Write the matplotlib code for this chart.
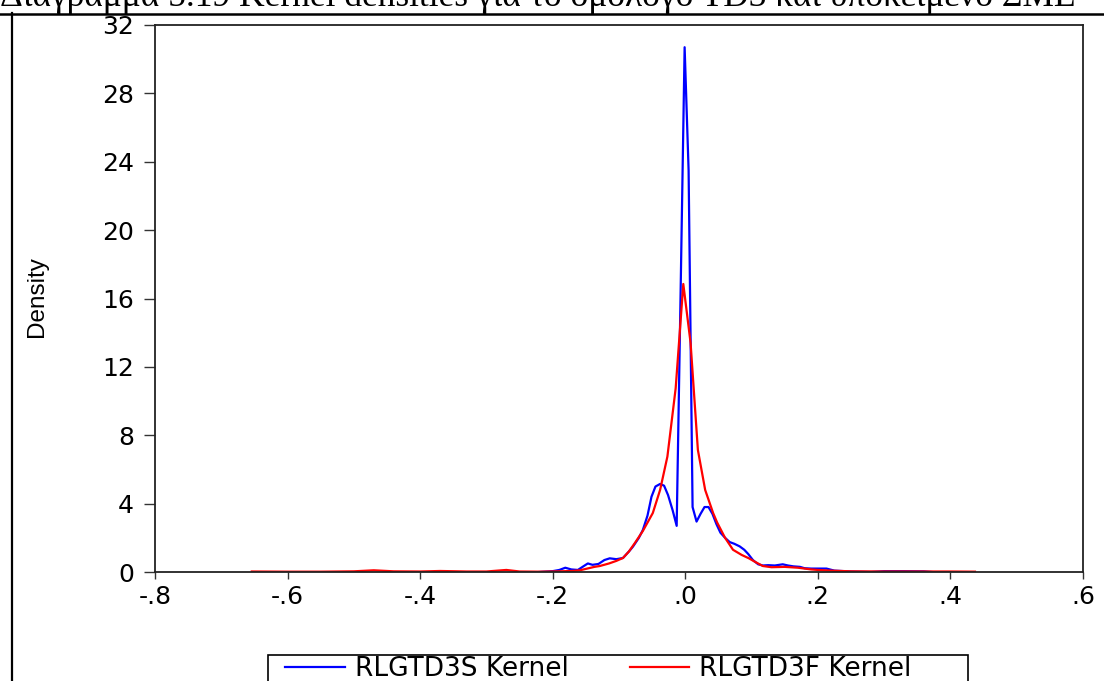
import matplotlib
matplotlib.use("Agg")
import matplotlib.pyplot as plt
from matplotlib.lines import Line2D
from matplotlib.patches import Rectangle

# RLGTD3S kernel density (blue)
s_x = [-0.22, -0.20, -0.19, -0.181, -0.172, -0.162, -0.155, -0.147, -0.14, -0.131,
       -0.122, -0.114, -0.104, -0.094, -0.085, -0.079, -0.07, -0.064, -0.057, -0.051,
       -0.045, -0.038, -0.032, -0.026, -0.019, -0.013, -0.007, -0.001, 0.005, 0.011,
       0.017, 0.023, 0.029, 0.035, 0.041, 0.047, 0.053, 0.06, 0.067, 0.074,
       0.082, 0.089, 0.095, 0.102, 0.11, 0.117, 0.125, 0.135, 0.147, 0.155,
       0.163, 0.173, 0.18, 0.19, 0.2, 0.213, 0.225, 0.25, 0.28, 0.3,
       0.33, 0.36, 0.372]
s_y = [0.0, 0.05, 0.12, 0.25, 0.15, 0.12, 0.3, 0.5, 0.42, 0.47,
       0.7, 0.8, 0.75, 0.82, 1.2, 1.48, 2.0, 2.46, 3.3, 4.4,
       5.0, 5.15, 5.05, 4.5, 3.6, 2.7, 16.5, 30.7, 23.5, 3.8,
       2.95, 3.4, 3.8, 3.8, 3.4, 2.8, 2.3, 2.0, 1.75, 1.65,
       1.5, 1.3, 1.05, 0.7, 0.45, 0.38, 0.4, 0.38, 0.45, 0.38,
       0.33, 0.3, 0.22, 0.2, 0.2, 0.2, 0.08, 0.03, 0.0, 0.05,
       0.05, 0.04, 0.0]

# RLGTD3F kernel density (red)
f_x = [-0.654, -0.6, -0.55, -0.5, -0.47, -0.44, -0.4, -0.37, -0.33, -0.3,
       -0.27, -0.25, -0.22, -0.19, -0.17, -0.159, -0.148, -0.137, -0.129, -0.115,
       -0.104, -0.094, -0.085, -0.076, -0.064, -0.049, -0.038, -0.027, -0.0145, -0.003,
       0.008, 0.019, 0.030, 0.042, 0.048, 0.06, 0.072, 0.085, 0.096, 0.105,
       0.117, 0.13, 0.15, 0.17, 0.19, 0.2, 0.22, 0.25, 0.3, 0.35,
       0.4, 0.437]
f_y = [0.03, 0.02, 0.02, 0.04, 0.1, 0.04, 0.03, 0.06, 0.03, 0.03,
       0.12, 0.03, 0.02, 0.04, 0.06, 0.1, 0.2, 0.3, 0.35, 0.5,
       0.65, 0.82, 1.2, 1.7, 2.4, 3.45, 4.8, 6.75, 10.75, 16.85,
       13.4, 7.14, 4.8, 3.45, 2.9, 2.0, 1.3, 1.0, 0.8, 0.6,
       0.35, 0.28, 0.3, 0.25, 0.15, 0.12, 0.08, 0.04, 0.03, 0.03,
       0.03, 0.02]

x_ticks = [-0.8, -0.6, -0.4, -0.2, 0.0, 0.2, 0.4, 0.6]
x_labels = ["-.8", "-.6", "-.4", "-.2", ".0", ".2", ".4", ".6"]
y_ticks = [0, 4, 8, 12, 16, 20, 24, 28, 32]

plt.rcParams["font.family"] = ["DejaVu Sans"]

fig = plt.figure(figsize=(11.04, 6.81), dpi=100)
W, H = 1104, 681
ax = fig.add_axes([155 / W, 1 - 572 / H, (1083 - 155) / W, (572 - 25) / H])

ax.plot(s_x, s_y, color="#0000ff", lw=1.6, label="RLGTD3S Kernel")
ax.plot(f_x, f_y, color="#ff0000", lw=1.6, label="RLGTD3F Kernel")

ax.set_xlim(-0.8, 0.6)
ax.set_ylim(0, 32)
ax.set_xticks(x_ticks)
ax.set_xticklabels(x_labels)
ax.set_yticks(y_ticks)
ax.tick_params(axis="y", direction="out", length=8, width=1, labelsize=18, color="#333333", pad=7)
ax.tick_params(axis="x", direction="out", length=5, width=1, labelsize=18, color="#333333", pad=4)
for sp in ax.spines.values():
    sp.set_linewidth(1.3)
    sp.set_color("#222222")

fig.text(37 / W, 1 - 297 / H, "Density", rotation=90, ha="center", va="center",
         family=["Liberation Sans", "DejaVu Sans"], fontsize=17.5)

leg = ax.legend(loc="upper left", bbox_to_anchor=(285 / W, 1 - 656 / H),
                bbox_transform=fig.transFigure, ncol=2, fontsize=19,
                frameon=False, handlelength=2.27, handletextpad=0.38,
                columnspacing=2.3, borderpad=0, borderaxespad=0)
fig.add_artist(Rectangle((268 / W, -0.05), 700 / W, (1 - 655 / H) + 0.05,
                         transform=fig.transFigure, fill=False,
                         edgecolor="black", lw=1.2))

# page frame and caption from the scanned document
fig.add_artist(Line2D([0, 1], [1 - 13.5 / H, 1 - 13.5 / H], color="black", lw=1.8))
fig.add_artist(Line2D([12 / W, 12 / W], [1 - 13 / H, 0], color="black", lw=1.6))
fig.text(0, 1 - 6 / H, "Διάγραμμα 5.19 Kernel densities για το ομόλογο TD3 και υποκείμενο ΣΜΕ",
         family=["Liberation Serif", "DejaVu Serif"], fontsize=25.5, va="baseline", ha="left")

fig.savefig("out.png", dpi=100)
